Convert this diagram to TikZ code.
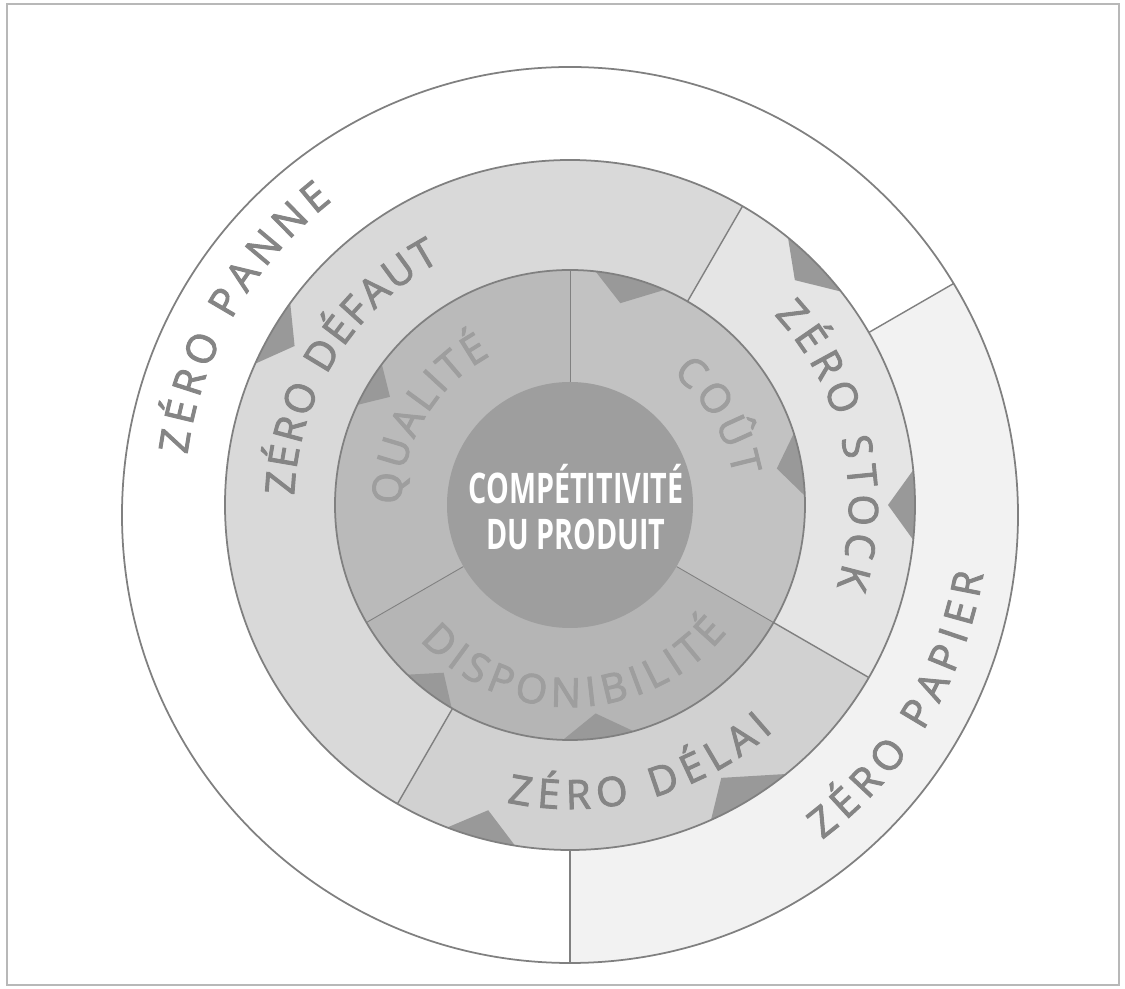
\documentclass[tikz,border=0pt]{standalone}
\usepackage{fontspec}
\setmainfont{Open Sans}
\newfontfamily\ringfont[FakeBold=2.2]{Open Sans}
\newfontfamily\condfont[FakeStretch=0.68]{Open Sans}
\usetikzlibrary{decorations.text}
\definecolor{framegray}{gray}{0.72}
\definecolor{linegray}{gray}{0.50}
\definecolor{papier}{gray}{0.95}
\definecolor{defaut}{gray}{0.85}
\definecolor{stock}{gray}{0.90}
\definecolor{delai}{gray}{0.82}
\definecolor{qualite}{gray}{0.73}
\definecolor{cout}{gray}{0.76}
\definecolor{dispo}{gray}{0.71}
\definecolor{centre}{gray}{0.62}
\definecolor{notch}{gray}{0.60}
\definecolor{labelgray}{gray}{0.52}
\definecolor{innerlabel}{gray}{0.62}

\begin{document}
\begin{tikzpicture}[x=0.02cm, y=0.02cm,
  ringline/.style={draw=linegray, line width=1pt},
  sepline/.style={draw=linegray, line width=0.8pt},
  ringtext/.style={decorate, decoration={text along path, text align={fit to path},
    text={|\ringfont\fontsize{23}{26}\selectfont\color{labelgray}|#1}}},
  innertext/.style={decorate, decoration={text along path, text align={fit to path},
    text={|\ringfont\fontsize{23}{26}\selectfont\color{innerlabel}|#1}}}]
  \useasboundingbox (-570,-484) rectangle (555,505);
  \draw[framegray, line width=0.6pt] (-563,501) rectangle (549,-480);

  % outer ring: zero panne / zero papier
  \fill[white] (0,-10) circle (448);
  \begin{scope}
    \clip (0,-10) circle (448);
    \fill[papier] (0,0) -- (-90:600) arc (-90:30:600) -- cycle;
    \foreach \a in {30,-90}
      \draw[sepline] (\a:345) -- (\a:480);
  \end{scope}
  \draw[ringline] (0,-10) circle (448);

  % middle ring
  \begin{scope}
    \clip (0,0) circle (345);
    \fill[defaut] (0,0) -- (60:350) arc (60:240:350) -- cycle;
    \fill[delai] (0,0) -- (240:350) arc (240:330:350) -- cycle;
    \fill[stock] (0,0) -- (-30:350) arc (-30:60:350) -- cycle;
    \foreach \a/\b/\m/\r in {51/38/45/318, 6/-6/0/318, 156/144/150/318, 249/261/255/316, 294/309/299/312}
      \fill[notch] (\a:346) arc (\a:\b:346) -- (\m:\r) -- cycle;
  \end{scope}
  \draw[ringline] (0,0) circle (345);
  \foreach \a in {60,-30,240}
    \draw[sepline] (\a:235) -- (\a:345);

  % inner ring
  \begin{scope}
    \clip (0,0) circle (235);
    \fill[qualite] (0,0) -- (90:240) arc (90:210:240) -- cycle;
    \fill[dispo] (0,0) -- (210:240) arc (210:330:240) -- cycle;
    \fill[cout] (0,0) -- (-30:240) arc (-30:90:240) -- cycle;
    \foreach \a/\b/\m/\r in {84/66/76/208, 18/2/10/210, 155/143/149/210, 268/286/277/210, 226/240/233/210}
      \fill[notch] (\a:236) arc (\a:\b:236) -- (\m:\r) -- cycle;
  \end{scope}
  \draw[ringline] (0,0) circle (235);
  \foreach \a in {90,210,-30}
    \draw[linegray, line width=0.5pt] (\a:123) -- (\a:235);

  % centre
  \fill[centre] (0,0) circle (123);
  \node[text=white, font=\condfont\bfseries\fontsize{24}{26.6}\selectfont, align=center] (produit) at (6,-2) {COMPÉTITIVITÉ\\DU PRODUIT};

  % labels
  \path[ringtext={ZÉRO PANNE}] (172.5:386) arc (172.5:128:386);
  \path[ringtext={ZÉRO DÉFAUT}] (178:276) arc (178:118:276);
  \path[ringtext={ZÉRO STOCK}] (43:279) arc (43:-17:279);
  \path[ringtext={ZÉRO DÉLAI}] (258:304) arc (258:312:304);
  \path[ringtext={ZÉRO PAPIER}] (307:419) arc (307:350.5:419);
  \path[innertext={QUALITÉ}] (180:169) arc (180:118:169);
  \path[innertext={COÛT}] (52:166) arc (52:10:166);
  \path[innertext={DISPONIBILITÉ}] (222:202) arc (222:321:202);
\end{tikzpicture}
\end{document}
